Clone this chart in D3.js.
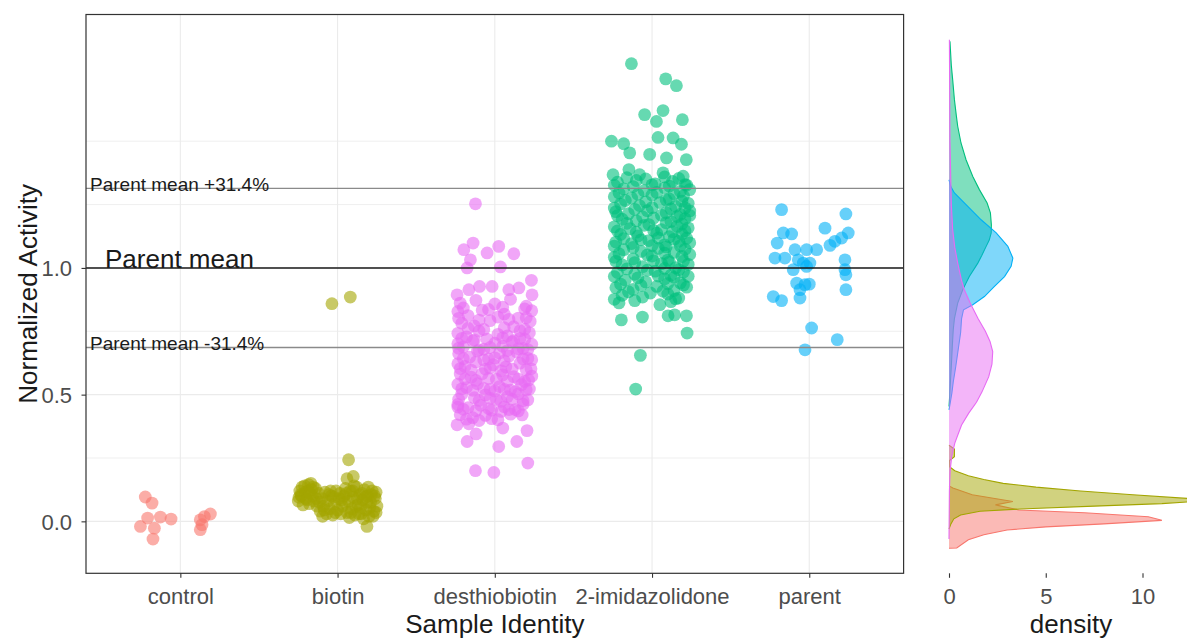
<!DOCTYPE html>
<html>
<head>
<meta charset="utf-8">
<script src="https://cdn.jsdelivr.net/npm/d3@7"></script>
<style>
  body { margin: 0; background: #fff; }
  text { font-family: "Liberation Sans", Arial, sans-serif; }
</style>
</head>
<body>
<svg id="chart" width="1187" height="639"></svg>
<script>
// ---- data ----
const categories = ["control", "biotin", "desthiobiotin", "2-imidazolidone", "parent"];
const groupColors = ["#F8766D", "#A3A500", "#E76BF3", "#00BF7D", "#00B0F6"];
const yTicks = [0, 0.5, 1.0];
const yMinorGrid = [0.25, 0.75, 1.25, 1.5];
const densityTicks = [0, 5, 10];
const parentMean = 1.0;
const parentBand = 0.314;

const controlValues = [0.096, 0.072, -0.020, 0.013, 0.017, 0.009, -0.027, -0.070, 0.006, 0.019, 0.029, -0.033, -0.013];
const controlJitter = [-0.223, -0.180, -0.254, -0.208, -0.127, -0.059, -0.165, -0.174, 0.127, 0.153, 0.191, 0.127, 0.138];

const biotinValues = [0.859, 0.885, 0.243, 0.177, 0.168, -0.020,
  0.080, 0.120, 0.100, 0.065, 0.140, 0.090, 0.120, 0.070, 0.150, 0.100, 0.080, 0.130, 0.060, 0.110, 0.095, 0.115, 0.125, 0.090, 0.135, 0.145,
  0.040, 0.090, 0.060, 0.115, 0.030, 0.080, 0.050, 0.100, 0.025, 0.070, 0.120, 0.045, 0.090, 0.030, 0.020, 0.120, 0.110,
  0.060, 0.100, 0.130, 0.035, 0.080, 0.120, 0.050, 0.095, 0.025, 0.135, 0.065, 0.105, 0.030, 0.085, 0.125, 0.045, 0.100, 0.020, 0.075, 0.120,
  0.040, 0.090, 0.060, 0.115, 0.020, 0.135, 0.010, 0.030, 0.140, 0.015, 0.075, 0.060, 0.110, 0.055, 0.100, 0.075,
  0.105, 0.085, 0.135, 0.075, 0.045, 0.105, 0.035, 0.085, 0.110, 0.035, 0.090, 0.055, 0.095, 0.105, 0.035, 0.110, 0.095, 0.120];
const biotinJitter = [-0.036, 0.081, 0.070, 0.100, 0.060, 0.187,
  -0.25, -0.24, -0.23, -0.22, -0.21, -0.20, -0.19, -0.18, -0.17, -0.16, -0.15, -0.14, -0.13, -0.12, -0.245, -0.205, -0.165, -0.135, -0.225, -0.185,
  -0.11, -0.10, -0.09, -0.08, -0.07, -0.06, -0.05, -0.04, -0.03, -0.02, -0.01, 0.00, 0.01, 0.02, -0.095, -0.045, 0.015,
  0.03, 0.04, 0.05, 0.06, 0.07, 0.08, 0.09, 0.10, 0.11, 0.12, 0.13, 0.14, 0.15, 0.16, 0.17, 0.18, 0.19, 0.20, 0.21, 0.22,
  0.23, 0.24, 0.25, 0.245, 0.225, 0.195, 0.165, 0.135, 0.105, 0.075, 0.045, 0.115, 0.155, 0.205, 0.235, 0.185,
  -0.235, -0.195, -0.155, -0.115, -0.085, -0.055, -0.015, 0.025, 0.055, 0.085, 0.125, 0.145, 0.175, 0.215, 0.245, -0.175, -0.025, 0.095];

const desthioValues = [1.253, 1.072, 1.098, 1.059, 1.085, 1.056, 1.032, 1.000, 1.004,
  0.894, 0.914, 0.927, 0.927, 0.914, 0.921, 0.951, 0.894,
  0.381, 0.385, 0.345, 0.315, 0.295, 0.315, 0.358, 0.420, 0.368, 0.200, 0.193, 0.230, 0.451,
  0.861, 0.872, 0.858, 0.876, 0.849,
  0.828, 0.812, 0.833, 0.818, 0.802, 0.831,
  0.782, 0.771, 0.792, 0.768, 0.758, 0.789,
  0.742, 0.728, 0.751, 0.719, 0.738, 0.732, 0.722, 0.744,
  0.701, 0.688, 0.712, 0.679, 0.703, 0.691, 0.708, 0.682, 0.699,
  0.661, 0.648, 0.672, 0.641, 0.664, 0.652, 0.668, 0.643,
  0.622, 0.611, 0.629, 0.601, 0.618, 0.609, 0.624, 0.602,
  0.581, 0.569, 0.583, 0.561, 0.578, 0.571, 0.552, 0.573,
  0.541, 0.528, 0.543, 0.521, 0.532, 0.518, 0.539, 0.522,
  0.502, 0.488, 0.499, 0.481, 0.492, 0.503, 0.479,
  0.461, 0.449, 0.458, 0.438, 0.452, 0.441, 0.462,
  0.421, 0.409, 0.418, 0.401, 0.423,
  0.842, 0.836, 0.845, 0.838,
  0.801, 0.794, 0.806, 0.797, 0.803,
  0.762, 0.757, 0.764, 0.752,
  0.722, 0.716, 0.724, 0.713, 0.719,
  0.683, 0.677, 0.686, 0.674, 0.681, 0.678,
  0.642, 0.637, 0.645, 0.633, 0.641, 0.638,
  0.603, 0.597, 0.605, 0.594, 0.601, 0.598,
  0.562, 0.556, 0.564, 0.553, 0.561, 0.558,
  0.523, 0.517, 0.525, 0.514, 0.521, 0.512, 0.519,
  0.482, 0.477, 0.485, 0.474, 0.481, 0.476,
  0.442, 0.437, 0.445, 0.434, 0.441, 0.436,
  0.403, 0.398, 0.405];
const desthioJitter = [-0.123, -0.197, -0.138, -0.049, 0.025, 0.121, -0.155, -0.176, 0.036,
  -0.240, -0.165, -0.097, -0.017, 0.089, 0.153, 0.233, 0.237,
  -0.240, -0.165, -0.119, -0.176, 0.025, 0.140, 0.205, 0.174, 0.051, -0.123, -0.006, 0.210, -0.235,
  -0.22, -0.12, 0.00, 0.10, 0.20,
  -0.235, -0.17, -0.08, 0.06, 0.15, 0.235,
  -0.21, -0.13, -0.03, 0.12, 0.19, 0.225,
  -0.235, -0.18, -0.10, -0.05, 0.02, 0.08, 0.16, 0.22,
  -0.235, -0.20, -0.14, -0.07, 0.00, 0.05, 0.11, 0.18, 0.235,
  -0.23, -0.16, -0.11, -0.04, 0.03, 0.09, 0.14, 0.21,
  -0.235, -0.19, -0.12, -0.06, -0.01, 0.07, 0.16, 0.23,
  -0.22, -0.15, -0.08, 0.01, 0.05, 0.12, 0.19, 0.235,
  -0.235, -0.18, -0.11, -0.03, 0.03, 0.10, 0.17, 0.22,
  -0.21, -0.13, -0.06, 0.01, 0.08, 0.15, 0.21,
  -0.235, -0.17, -0.09, -0.02, 0.06, 0.13, 0.18,
  -0.22, -0.14, -0.06, 0.02, 0.10,
  -0.20, -0.04, 0.05, 0.19,
  -0.23, -0.10, 0.02, 0.09, 0.20,
  -0.17, -0.07, 0.06, 0.16,
  -0.21, -0.13, 0.05, 0.12, 0.19,
  -0.23, -0.10, -0.03, 0.08, 0.15, 0.21,
  -0.20, -0.07, 0.00, 0.06, 0.18, 0.235,
  -0.22, -0.15, -0.03, 0.04, 0.11, 0.20,
  -0.19, -0.12, -0.04, 0.08, 0.15, 0.215,
  -0.21, -0.14, -0.07, 0.00, 0.06, 0.13, 0.20,
  -0.23, -0.10, -0.03, 0.04, 0.11, 0.18,
  -0.20, -0.12, -0.04, 0.04, 0.09, 0.15,
  -0.18, -0.10, -0.02];

const imidValues = [1.806, 1.746, 1.719, 1.605, 1.621, 1.578, 1.585, 1.500, 1.490, 1.515, 1.513, 1.488, 1.454, 1.448, 1.434, 1.427, 1.368, 1.388, 1.368, 1.375, 1.362,
  0.795, 0.806, 0.811, 0.815, 0.811, 0.743, 0.655, 0.522,
  1.338, 1.345, 1.332, 1.341, 1.329,
  1.312, 1.305, 1.316, 1.302, 1.309,
  1.281, 1.276, 1.288, 1.272, 1.284,
  1.252, 1.246, 1.258, 1.243, 1.255,
  1.222, 1.214, 1.226, 1.218, 1.211, 1.225,
  1.192, 1.186, 1.197, 1.183, 1.194,
  1.162, 1.155, 1.168, 1.151, 1.164, 1.158,
  1.132, 1.126, 1.137, 1.123, 1.134,
  1.102, 1.096, 1.108, 1.091, 1.105, 1.099,
  1.072, 1.065, 1.077, 1.061, 1.074,
  1.042, 1.036, 1.047, 1.031, 1.045,
  1.012, 1.005, 1.017, 1.001, 1.014,
  0.982, 0.975, 0.987, 0.971, 0.984,
  0.952, 0.945, 0.957, 0.941,
  0.922, 0.915, 0.927, 0.911, 0.924,
  0.892, 0.885, 0.897, 0.881,
  0.862, 0.855, 0.867,
  1.356, 1.351, 1.359, 1.353,
  1.326, 1.321, 1.328, 1.323, 1.327,
  1.296, 1.291, 1.298, 1.293,
  1.266, 1.261, 1.268, 1.263,
  1.236, 1.231, 1.238, 1.233, 1.237,
  1.206, 1.201, 1.208, 1.203, 1.207,
  1.176, 1.171, 1.178, 1.173,
  1.146, 1.141, 1.148, 1.143, 1.147,
  1.116, 1.111, 1.118, 1.113, 1.117,
  1.086, 1.081, 1.088, 1.083, 1.087,
  1.056, 1.051, 1.058, 1.053,
  1.026, 1.021, 1.028, 1.023, 1.027,
  0.996, 0.991, 0.998, 0.993,
  0.966, 0.961, 0.968, 0.963, 0.967,
  0.936, 0.931, 0.938, 0.933,
  0.906, 0.901, 0.908,
  0.876, 0.871, 0.878];
const imidJitter = [-0.131, 0.087, 0.155, -0.047, 0.070, 0.028, 0.193, -0.258, -0.180, 0.038, 0.134, 0.187, -0.142, -0.015, 0.092, 0.218, -0.248, -0.147, -0.079, 0.070, 0.198,
  -0.195, -0.061, 0.102, 0.144, 0.219, 0.223, -0.074, -0.104,
  -0.22, -0.10, 0.02, 0.13, 0.21,
  -0.18, -0.05, 0.08, 0.18, 0.24,
  -0.24, -0.13, 0.00, 0.11, 0.20,
  -0.20, -0.08, 0.05, 0.15, 0.23,
  -0.23, -0.15, -0.03, 0.09, 0.18, 0.24,
  -0.19, -0.10, 0.01, 0.12, 0.21,
  -0.24, -0.14, -0.05, 0.06, 0.16, 0.23,
  -0.20, -0.09, 0.03, 0.11, 0.19,
  -0.23, -0.13, -0.02, 0.08, 0.17, 0.24,
  -0.18, -0.07, 0.04, 0.14, 0.21,
  -0.24, -0.12, 0.00, 0.10, 0.19,
  -0.19, -0.06, 0.06, 0.15, 0.23,
  -0.22, -0.11, 0.02, 0.12, 0.20,
  -0.17, -0.04, 0.08, 0.18,
  -0.23, -0.12, 0.03, 0.14, 0.22,
  -0.19, -0.06, 0.10, 0.17,
  -0.21, 0.05, 0.12,
  -0.16, -0.04, 0.08, 0.17,
  -0.24, -0.12, 0.00, 0.11, 0.22,
  -0.21, -0.09, 0.03, 0.14,
  -0.17, -0.04, 0.09, 0.19,
  -0.24, -0.11, 0.00, 0.12, 0.21,
  -0.22, -0.06, 0.06, 0.16, 0.24,
  -0.16, -0.02, 0.09, 0.19,
  -0.22, -0.10, 0.01, 0.13, 0.21,
  -0.18, -0.07, 0.04, 0.14, 0.22,
  -0.24, -0.12, 0.00, 0.09, 0.18,
  -0.21, -0.03, 0.08, 0.24,
  -0.23, -0.11, 0.01, 0.11, 0.20,
  -0.16, -0.03, 0.08, 0.17,
  -0.24, -0.09, 0.04, 0.14, 0.23,
  -0.20, -0.07, 0.10, 0.20,
  -0.15, -0.01, 0.07,
  -0.24, -0.11, 0.15];

const parentValues = [1.230, 1.213, 1.157, 1.138, 1.134, 1.098, 1.138, 1.118, 1.105, 1.089,
  1.072, 1.072, 1.072, 1.039, 1.039, 1.032, 1.019, 1.019, 1.032, 0.993,
  0.973, 0.993, 1.006, 0.940, 0.914, 0.934, 0.936, 0.914, 0.887, 0.871,
  0.881, 0.763, 0.717, 0.677];
const parentJitter = [-0.176, 0.233, 0.100, -0.165, -0.112, -0.204, 0.248, 0.206, 0.163, 0.132,
  0.047, -0.017, -0.091, -0.218, -0.155, -0.070, -0.038, 0.004, 0.227, 0.227,
  0.233, -0.102, -0.017, -0.080, -0.059, -0.027, 0.000, 0.233, -0.229, -0.176,
  -0.059, 0.015, 0.178, -0.027];

// marginal density curves: [activity, density]
const controlDensity = [[0.140, 0], [0.132, 0.2], [0.105, 1.2], [0.078, 3.3], [0.065, 2.4], [0.045, 3.6], [0.034, 7.0],
  [0.018, 10.3], [0.004, 11.0], [-0.010, 8.0], [-0.022, 5.0], [-0.034, 3.0], [-0.053, 1.8], [-0.073, 1.0], [-0.105, 0.4], [-0.106, 0]];
const biotinDensity = [[0.300, 0], [0.285, 0.28], [0.255, 0.28], [0.240, 0.03], [0.215, 0.04], [0.200, 0.3], [0.180, 1.0],
  [0.165, 1.8], [0.150, 2.8], [0.135, 4.5], [0.120, 6.8], [0.105, 9.5], [0.090, 12.4], [0.080, 13.0], [0.070, 11.0],
  [0.060, 7.5], [0.050, 4.0], [0.040, 1.6], [0.025, 0.6], [0.010, 0.25], [-0.010, 0.1], [-0.030, 0]];
const desthioDensity = [[1.900, 0.02], [1.500, 0.05], [1.250, 0.12], [1.151, 0.19], [1.080, 0.30], [1.019, 0.45], [0.950, 0.65],
  [0.914, 0.79], [0.861, 1.10], [0.800, 1.50], [0.750, 1.88], [0.710, 2.12], [0.670, 2.26], [0.620, 2.22], [0.570, 2.05],
  [0.510, 1.70], [0.470, 1.42], [0.427, 1.02], [0.380, 0.65], [0.340, 0.45], [0.309, 0.30], [0.256, 0.14], [0.200, 0.06],
  [0.120, 0.02], [-0.070, 0]];
const imidDensity = [[1.894, 0.05], [1.800, 0.12], [1.743, 0.19], [1.664, 0.28], [1.600, 0.38], [1.559, 0.45], [1.493, 0.62],
  [1.427, 0.88], [1.361, 1.23], [1.309, 1.57], [1.256, 1.97], [1.217, 2.14], [1.170, 2.19], [1.138, 2.18], [1.110, 2.08],
  [1.085, 1.92], [1.050, 1.70], [1.019, 1.49], [0.966, 1.05], [0.940, 0.88], [0.914, 0.71], [0.861, 0.45], [0.800, 0.28],
  [0.756, 0.22], [0.690, 0.17], [0.626, 0.13], [0.560, 0.08], [0.500, 0.04], [0.453, 0]];
const parentDensity = [[1.348, 0], [1.320, 0.10], [1.296, 0.28], [1.243, 0.97], [1.190, 1.66], [1.138, 2.44], [1.085, 3.04],
  [1.039, 3.30], [1.006, 3.21], [0.966, 2.87], [0.927, 2.35], [0.887, 1.83], [0.855, 1.23], [0.835, 0.75], [0.800, 0.65],
  [0.744, 0.60], [0.680, 0.48], [0.611, 0.35], [0.550, 0.22], [0.507, 0.15], [0.470, 0.07], [0.440, 0]];

const groups = [
  { name: "control", color: groupColors[0], values: controlValues, jitter: controlJitter, density: controlDensity },
  { name: "biotin", color: groupColors[1], values: biotinValues, jitter: biotinJitter, density: biotinDensity },
  { name: "desthiobiotin", color: groupColors[2], values: desthioValues, jitter: desthioJitter, density: desthioDensity },
  { name: "2-imidazolidone", color: groupColors[3], values: imidValues, jitter: imidJitter, density: imidDensity },
  { name: "parent", color: groupColors[4], values: parentValues, jitter: parentJitter, density: parentDensity }
];
// marginal layers stack in this order
const densityOrder = ["control", "biotin", "2-imidazolidone", "parent", "desthiobiotin"];

// ---- layout ----
const svg = d3.select("#chart");
const panel = { left: 86, right: 903.6, top: 14.5, bottom: 573.3 };
const font = "'Liberation Sans', Arial, sans-serif";
const tickGrey = "#4d4d4d";

const y = d3.scaleLinear().domain([-0.205, 2.0]).range([panel.bottom, panel.top]);
const x = d3.scalePoint().domain(categories)
  .range([panel.left + 0.6 * (panel.right - panel.left) / 5.2, panel.right - 0.6 * (panel.right - panel.left) / 5.2]);
const step = x.step();
const xd = d3.scaleLinear().domain([0, 10]).range([949, 1142.5]);

// grid
const grid = svg.append("g");
grid.selectAll(".minor").data(yMinorGrid).join("line")
  .attr("x1", panel.left).attr("x2", panel.right)
  .attr("y1", d => y(d)).attr("y2", d => y(d))
  .attr("stroke", "#ebebeb").attr("stroke-width", 0.8);
grid.selectAll(".major").data(yTicks).join("line")
  .attr("x1", panel.left).attr("x2", panel.right)
  .attr("y1", d => y(d)).attr("y2", d => y(d))
  .attr("stroke", "#ebebeb").attr("stroke-width", 1.1);
grid.selectAll(".vmajor").data(categories).join("line")
  .attr("x1", d => x(d)).attr("x2", d => x(d))
  .attr("y1", panel.top).attr("y2", panel.bottom)
  .attr("stroke", "#ebebeb").attr("stroke-width", 1.1);

// jittered points
const pts = svg.append("g");
groups.forEach(g => {
  const n = Math.min(g.values.length, g.jitter.length);
  const rows = d3.range(n).map(i => ({ v: g.values[i], j: g.jitter[i] }));
  pts.append("g").selectAll("circle").data(rows).join("circle")
    .attr("cx", d => x(g.name) + d.j * step)
    .attr("cy", d => y(d.v))
    .attr("r", 6.4)
    .attr("fill", g.color)
    .attr("fill-opacity", 0.6);
});

// parent mean reference lines
const refs = svg.append("g");
const upper = parentMean * (1 + parentBand);
const lower = parentMean * (1 - parentBand);
[upper, lower].forEach(v => {
  refs.append("line").attr("x1", panel.left).attr("x2", panel.right)
    .attr("y1", y(v)).attr("y2", y(v))
    .attr("stroke", "#8a8a8a").attr("stroke-width", 1.3);
});
refs.append("line").attr("x1", panel.left).attr("x2", panel.right)
  .attr("y1", y(parentMean)).attr("y2", y(parentMean))
  .attr("stroke", "#1a1a1a").attr("stroke-width", 1.5);

refs.append("text").attr("x", 90).attr("y", y(upper) + 2.2)
  .attr("font-size", 19).attr("fill", "#1a1a1a")
  .text("Parent mean +" + (parentBand * 100).toFixed(1) + "%");
refs.append("text").attr("x", 90).attr("y", y(lower) + 2.4)
  .attr("font-size", 19).attr("fill", "#1a1a1a")
  .text("Parent mean -" + (parentBand * 100).toFixed(1) + "%");
refs.append("text").attr("x", 105).attr("y", y(parentMean))
  .attr("font-size", 26).attr("fill", "#1a1a1a")
  .text("Parent mean");

// panel border
svg.append("rect").attr("x", panel.left).attr("y", panel.top)
  .attr("width", panel.right - panel.left).attr("height", panel.bottom - panel.top)
  .attr("fill", "none").attr("stroke", "#333").attr("stroke-width", 1.2);

// axes
const yAxis = svg.append("g").attr("transform", `translate(${panel.left},0)`)
  .call(d3.axisLeft(y).tickValues(yTicks).tickFormat(d3.format(".1f")).tickSize(4.5).tickPadding(9.5));
const xAxis = svg.append("g").attr("transform", `translate(0,${panel.bottom})`)
  .call(d3.axisBottom(x).tickSize(4.5));
const dAxis = svg.append("g").attr("transform", `translate(0,${panel.bottom})`)
  .call(d3.axisBottom(xd).tickValues(densityTicks).tickFormat(d3.format("d")).tickSize(4.5));
[yAxis, xAxis, dAxis].forEach(a => {
  a.select(".domain").remove();
  a.selectAll(".tick line").attr("stroke", "#333").attr("stroke-width", 1.1);
  a.selectAll(".tick text").attr("fill", tickGrey).attr("font-size", 22).attr("font-family", font);
});
yAxis.selectAll(".tick text").attr("dy", "0.36em");
[xAxis, dAxis].forEach(a => a.selectAll(".tick text").attr("y", 30.7).attr("dy", 0));

// marginal densities
const dens = svg.append("g");
densityOrder.forEach(name => {
  const g = groups.find(d => d.name === name);
  const area = d3.area().y(d => y(d[0])).x0(xd(0)).x1(d => xd(d[1]));
  const line = d3.line().y(d => y(d[0])).x(d => xd(d[1]));
  dens.append("path").attr("d", area(g.density)).attr("fill", g.color).attr("fill-opacity", 0.5);
  dens.append("path").attr("d", line(g.density)).attr("fill", "none")
    .attr("stroke", g.color).attr("stroke-width", 1.1);
});

// axis titles
svg.append("text").attr("transform", `translate(37,${(panel.top + panel.bottom) / 2}) rotate(-90)`)
  .attr("text-anchor", "middle").attr("font-size", 26).attr("fill", "#1a1a1a")
  .text("Normalized Activity");
svg.append("text").attr("x", (panel.left + panel.right) / 2).attr("y", 633)
  .attr("text-anchor", "middle").attr("font-size", 26).attr("fill", "#1a1a1a")
  .text("Sample Identity");
svg.append("text").attr("x", 1071).attr("y", 633)
  .attr("text-anchor", "middle").attr("font-size", 26).attr("fill", "#1a1a1a")
  .text("density");
</script>
</body>
</html>
